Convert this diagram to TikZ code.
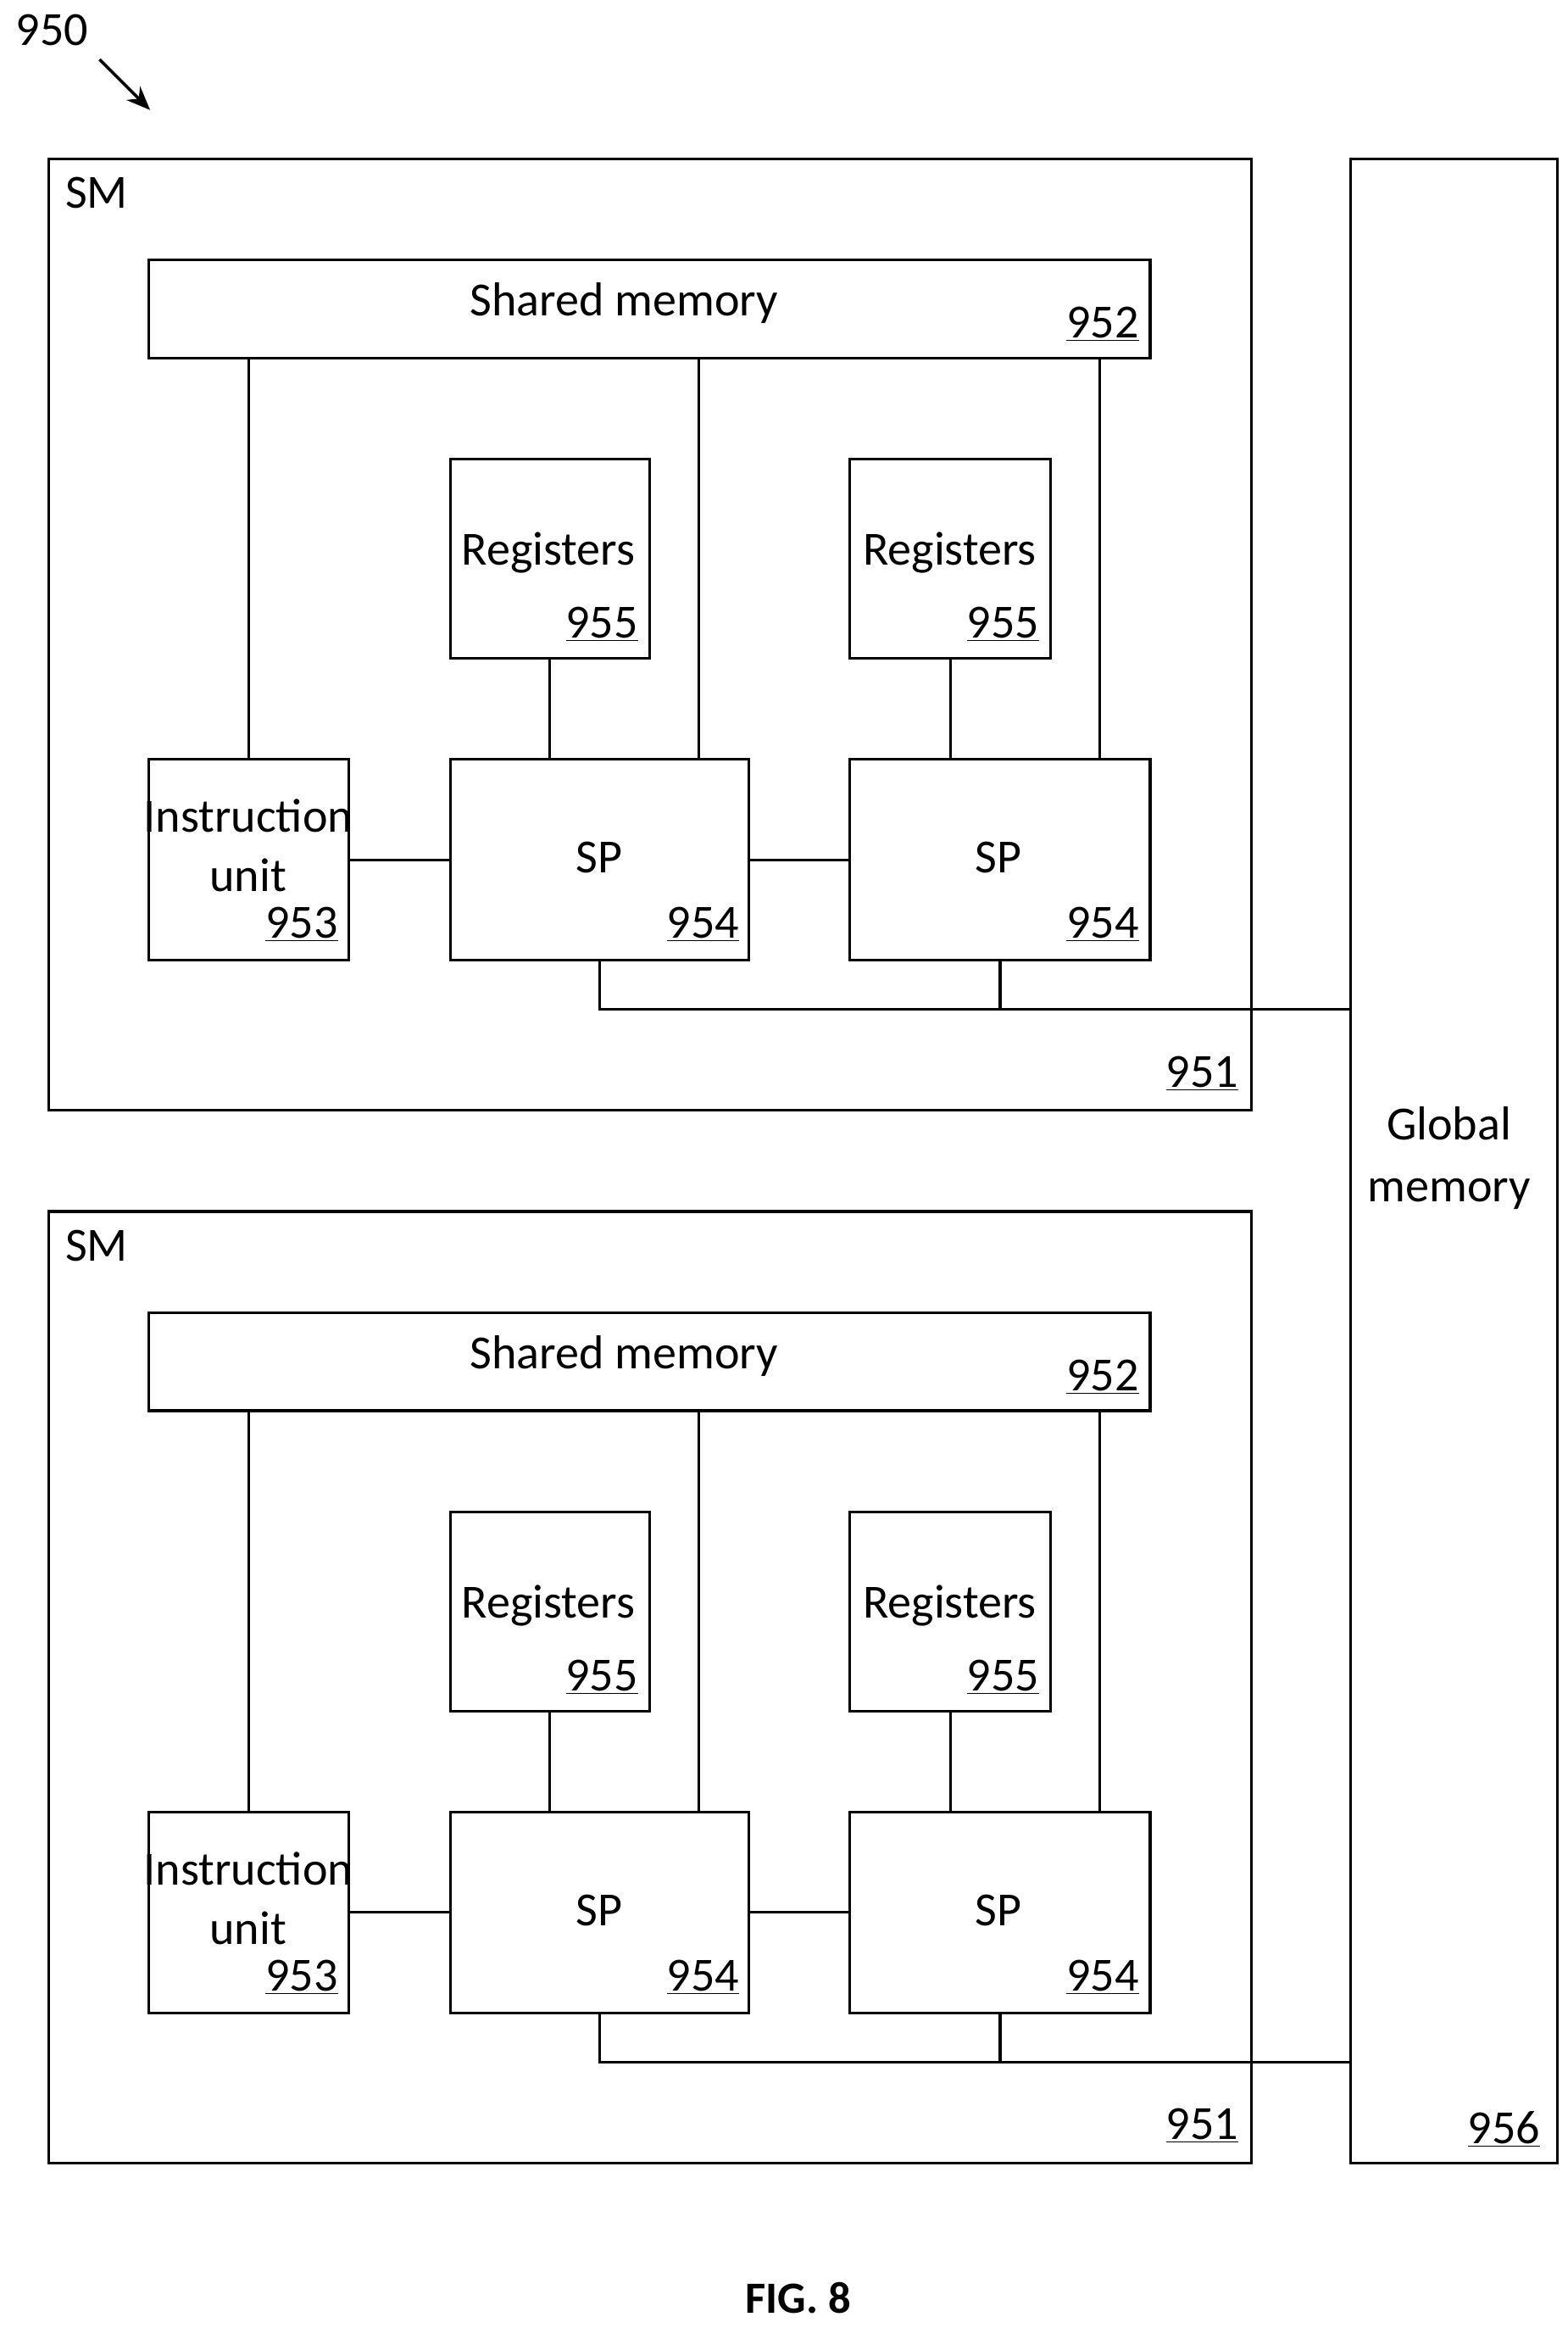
\documentclass[tikz,border=0pt]{standalone}
\usepackage{fontspec}
\setmainfont{Carlito}
\usetikzlibrary{arrows.meta}
\begin{document}
\begin{tikzpicture}[x=1pt,y=-1pt,line width=1.8pt,
 box/.style={draw,line width=1.8pt},
 t/.style={font=\fontsize{32}{38}\selectfont,inner sep=0},
 n/.style={font=\fontsize{32}{38}\selectfont,inner sep=0}]
\useasboundingbox (0,0) rectangle (1055,1566);
\node[t] (lbl) at (35,20) {950};
\coordinate (a1) at (67,40); \coordinate (a2) at (101,74);
\draw[-{Stealth[length=16pt,width=13pt]},line width=2pt] (a1) -- (a2);
\node[box,minimum width=139,minimum height=1348,anchor=north west] (gm) at (908,106) {};
\node[t,align=center] at (975,779) {Global\\[4pt]memory};
\node[n] at (1012,1432) {\underline{956}};
\node[t,font=\bfseries\fontsize{30}{36}\selectfont] at (537,1546) {FIG. 8};
\foreach \dy/\k in {0/a,708/b}{
\begin{scope}[yshift=-\dy]
\node[box,minimum width=809,minimum height=640,anchor=north west] (sm\k) at (32,106) {};
\node[t] at (65,130) {SM};
\node[n] at (809,722) {\underline{951}};
\node[box,minimum width=674,minimum height=66,anchor=north west] (sh\k) at (99,174) {};
\node[t] at (420,204) {Shared memory};
\node[n] at (742,218) {\underline{952}};
\node[box,minimum width=134,minimum height=134,anchor=north west] (ra\k) at (302,308) {};
\node[t] at (369,372) {Registers}; \node[n] at (405,420) {\underline{955}};
\node[box,minimum width=135,minimum height=134,anchor=north west] (rb\k) at (571,308) {};
\node[t] at (639,372) {Registers}; \node[n] at (675,420) {\underline{955}};
\node[box,minimum width=135,minimum height=135,anchor=north west] (iu\k) at (99,510) {};
\node[t] at (167,549) {Instruction}; \node[t] at (167,589) {unit};
\node[n] at (203,622) {\underline{953}};
\node[box,minimum width=201,minimum height=135,anchor=north west] (spa\k) at (302,510) {};
\node[t] at (403,577) {SP}; \node[n] at (473,622) {\underline{954}};
\node[box,minimum width=202,minimum height=135,anchor=north west] (spb\k) at (571,510) {};
\node[t] at (672,577) {SP}; \node[n] at (742,622) {\underline{954}};
\draw (sh\k.south -| iu\k.north) -- (iu\k.north);
\draw (sh\k.south -| 470,0) -- (spa\k.north -| 470,0);
\draw (sh\k.south -| 740,0) -- (spb\k.north -| 740,0);
\draw (ra\k) -- (spa\k.north -| ra\k);
\draw (rb\k) -- (spb\k.north -| rb\k);
\draw (iu\k) -- (spa\k);
\draw (spa\k) -- (spb\k);
\coordinate (j\k) at (spb\k.south |- 0,679);
\draw (spa\k.south) |- (j\k) -- (gm.west |- j\k);
\draw (spb\k.south) -- (j\k);
\end{scope}}
\end{tikzpicture}
\end{document}
